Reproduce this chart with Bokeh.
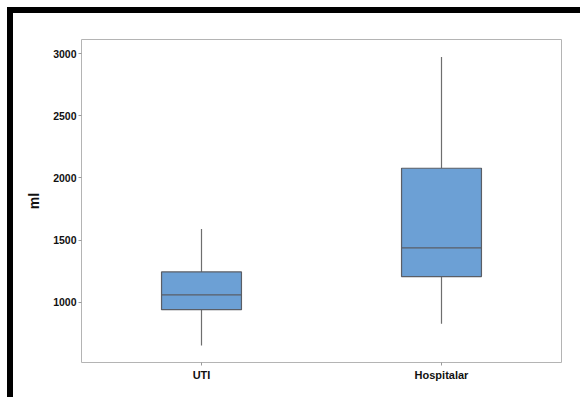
from bokeh.plotting import figure
from bokeh.models import ColumnDataSource, FixedTicker
from bokeh.transform import dodge
from bokeh.embed import file_html
from bokeh.resources import INLINE

categories = ["UTI", "Hospitalar"]
whisker_low = [653, 828]
q1 = [941, 1207]
median = [1059, 1438]
q3 = [1244, 2078]
whisker_high = [1589, 2973]
y_ticks = [1000, 1500, 2000, 2500, 3000]

BOX_W = 0.333
xs = [i + 1 for i in range(len(categories))]
src = ColumnDataSource(dict(x=xs, lo=whisker_low, q1=q1, med=median, q3=q3, hi=whisker_high))

p = figure(width=573, height=390, output_backend="svg", toolbar_location=None,
           x_range=(0.5, 2.5), y_range=(516, 3113),
           min_border_left=68, min_border_top=26, min_border_right=25, min_border_bottom=41)
p.styles = {"border-top": "6px solid black", "border-left": "6px solid black",
            "margin-left": "7px", "margin-top": "7px", "overflow": "hidden"}
p.grid.visible = False
p.outline_line_color = "#b4b4b4"
p.outline_line_width = 1

# whiskers
p.segment(x0="x", y0="lo", x1="x", y1="q1", source=src, line_color="#6e6e6e", line_width=1.2)
p.segment(x0="x", y0="q3", x1="x", y1="hi", source=src, line_color="#6e6e6e", line_width=1.2)
# boxes
p.vbar(x="x", bottom="q1", top="q3", width=BOX_W, source=src,
       fill_color="#6ca0d5", line_color="#5a5e66", line_width=1.2)
# medians
p.segment(x0=dodge("x", -BOX_W / 2), y0="med", x1=dodge("x", BOX_W / 2), y1="med",
          source=src, line_color="#5a5e66", line_width=1.2)

p.xaxis.ticker = FixedTicker(ticks=xs)
p.xaxis.major_label_overrides = {x: c for x, c in zip(xs, categories)}
p.yaxis.ticker = FixedTicker(ticks=y_ticks)
for ax in (p.xaxis[0], p.yaxis[0]):
    ax.axis_line_color = None
    ax.major_tick_line_color = "#9a9a9a"
    ax.major_tick_out = 3
    ax.major_tick_in = 0
    ax.minor_tick_line_color = None
    ax.major_label_text_font = "Liberation Sans"
    ax.major_label_text_font_style = "bold"
    ax.major_label_text_color = "#111111"
p.xaxis.major_label_text_font_size = "11px"
p.yaxis.major_label_text_font_size = "10.5px"
p.xaxis.major_label_standoff = 3
p.yaxis.major_label_standoff = 2
p.yaxis.axis_label = "ml"
p.yaxis.axis_label_text_font = "Liberation Sans"
p.yaxis.axis_label_text_font_style = "bold"
p.yaxis.axis_label_text_font_size = "14px"
p.yaxis.axis_label_text_color = "#111111"
p.yaxis.axis_label_standoff = 8

open("out.html", "w").write(file_html(p, INLINE))
